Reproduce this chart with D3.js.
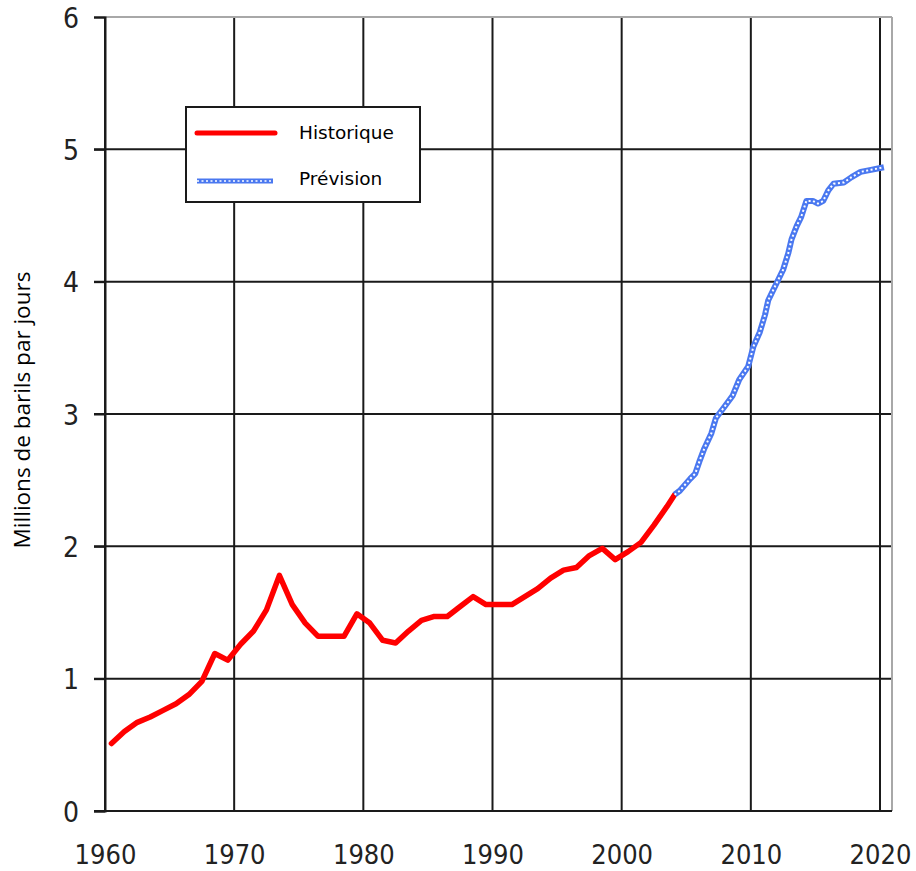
<!DOCTYPE html>
<html><head><meta charset="utf-8">
<script src="https://cdn.jsdelivr.net/npm/d3@7"></script>
<style>
html,body{margin:0;padding:0;background:#fff;}
svg{display:block;}
</style></head>
<body><svg id="c" width="916" height="871"></svg>
<script>
// ---- data ----
const histYears = [1960.5,1961.5,1962.5,1963.5,1964.5,1965.5,1966.5,1967.5,1968.5,1969.5,
  1970.5,1971.5,1972.5,1973.5,1974.5,1975.5,1976.5,1977.5,1978.5,1979.5,
  1980.5,1981.5,1982.5,1983.5,1984.5,1985.5,1986.5,1987.5,1988.5,1989.5,
  1990.5,1991.5,1992.5,1993.5,1994.5,1995.5,1996.5,1997.5,1998.5,1999.5,
  2000.5,2001.5,2002.5,2003.5,2004.1];
const histValues = [0.51,0.60,0.67,0.71,0.76,0.81,0.88,0.98,1.19,1.14,
  1.26,1.36,1.52,1.78,1.56,1.42,1.32,1.32,1.32,1.49,
  1.42,1.29,1.27,1.36,1.44,1.47,1.47,1.545,1.62,1.56,
  1.56,1.56,1.62,1.68,1.76,1.82,1.84,1.93,1.985,1.90,
  1.96,2.03,2.16,2.30,2.39];
const fcYears = [2004.1,2004.5,2005.3,2005.7,2006.05,2006.4,2006.95,2007.3,2008.0,2008.6,
  2009.1,2009.8,2010.2,2010.7,2011.1,2011.35,2012.0,2012.5,2012.9,2013.15,
  2013.55,2013.9,2014.3,2014.8,2015.2,2015.6,2016.0,2016.4,2017.2,2017.8,
  2018.5,2019.3,2020.3];
const fcValues = [2.39,2.42,2.51,2.55,2.65,2.74,2.855,2.97,3.06,3.14,
  3.26,3.36,3.51,3.62,3.75,3.86,3.99,4.09,4.215,4.32,
  4.42,4.49,4.61,4.61,4.59,4.61,4.69,4.74,4.75,4.79,
  4.83,4.845,4.865];
const xTicks = [1960,1970,1980,1990,2000,2010,2020];
const yTicks = [0,1,2,3,4,5,6];
const seriesNames = ["Historique","Prévision"];
const yTitle = "Millions de barils par jours";

// ---- layout ----
const svg = d3.select("#c");
const x = d3.scaleLinear().domain([1960,2020]).range([105,880]);
const y = d3.scaleLinear().domain([0,6]).range([811,17]);
const right = 892;
const numFont = "'DejaVu Sans Condensed','DejaVu Sans',sans-serif";

// gridlines
svg.append("g").selectAll("line.h").data(yTicks.slice(0,-1)).join("line")
  .attr("x1",94).attr("x2",right).attr("y1",d=>y(d)).attr("y2",d=>y(d))
  .attr("stroke","#1a1a1a").attr("stroke-width",2);
svg.append("g").selectAll("line.v").data(xTicks).join("line")
  .attr("x1",d=>x(d)).attr("x2",d=>x(d)).attr("y1",y(6)).attr("y2",y(0))
  .attr("stroke","#1a1a1a").attr("stroke-width",2);
// top & right gray frame
svg.append("line").attr("x1",105).attr("x2",right).attr("y1",y(6)).attr("y2",y(6))
  .attr("stroke","#a8a8a8").attr("stroke-width",2);
svg.append("line").attr("x1",right).attr("x2",right).attr("y1",y(6)).attr("y2",y(0))
  .attr("stroke","#a8a8a8").attr("stroke-width",2);

// axes
const ya = svg.append("g").attr("transform","translate(105,0)")
  .call(d3.axisLeft(y).tickValues(yTicks).tickSize(11).tickPadding(15).tickFormat(d3.format("d")));
ya.select(".domain").attr("stroke","#1a1a1a").attr("stroke-width",2);
ya.selectAll(".tick line").attr("stroke","#1a1a1a").attr("stroke-width",2);
ya.selectAll("text").attr("font-family",numFont).attr("font-size",28).attr("fill","#222").attr("dy","0.36em");

const xa = svg.append("g").attr("transform","translate(0,811)")
  .call(d3.axisBottom(x).tickValues(xTicks).tickSize(0).tickFormat(d3.format("d")));
xa.select(".domain").remove();
xa.selectAll("text").attr("font-family",numFont).attr("font-size",27).attr("fill","#222")
  .attr("y",53).attr("dy","0");
svg.append("line").attr("x1",94).attr("x2",right).attr("y1",811).attr("y2",811)
  .attr("stroke","#1a1a1a").attr("stroke-width",2);

// y title
svg.append("text").attr("transform","translate(30,410) rotate(-90)")
  .attr("text-anchor","middle").attr("font-family","'Open Sans',sans-serif")
  .attr("font-size",22.5).attr("fill","#000").text(yTitle);

// lines
const line = d3.line().x(d=>x(d[0])).y(d=>y(d[1]));
const hist = histYears.map((d,i)=>[d,histValues[i]]);
const fc = fcYears.map((d,i)=>[d,fcValues[i]]);
svg.append("path").attr("d",line(hist)).attr("fill","none").attr("stroke","#ff0000")
  .attr("stroke-width",5.5).attr("stroke-linejoin","round").attr("stroke-linecap","round");
svg.append("path").attr("d",line(fc)).attr("fill","none").attr("stroke","#4a78f0")
  .attr("stroke-width",6).attr("stroke-linejoin","round");
svg.append("path").attr("d",line(fc)).attr("fill","none").attr("stroke","#ffffff")
  .attr("stroke-width",2).attr("stroke-dasharray","2,2.5");

// legend
const lg = svg.append("g");
lg.append("rect").attr("x",186).attr("y",107).attr("width",234).attr("height",95)
  .attr("fill","#fff").attr("stroke","#1a1a1a").attr("stroke-width",2);
lg.append("line").attr("x1",197).attr("x2",275).attr("y1",133).attr("y2",133)
  .attr("stroke","#ff0000").attr("stroke-width",5).attr("stroke-linecap","round");
lg.append("line").attr("x1",197).attr("x2",273).attr("y1",181).attr("y2",181)
  .attr("stroke","#4a78f0").attr("stroke-width",5);
lg.append("line").attr("x1",197).attr("x2",273).attr("y1",181).attr("y2",181)
  .attr("stroke","#fff").attr("stroke-width",1.6).attr("stroke-dasharray","2,2.5");
lg.selectAll("text").data(seriesNames).join("text")
  .attr("x",299).attr("y",(d,i)=>i===0?139:185)
  .attr("font-family","'DejaVu Sans',sans-serif").attr("font-size",18.5).attr("fill","#000")
  .text(d=>d);
</script></body></html>
